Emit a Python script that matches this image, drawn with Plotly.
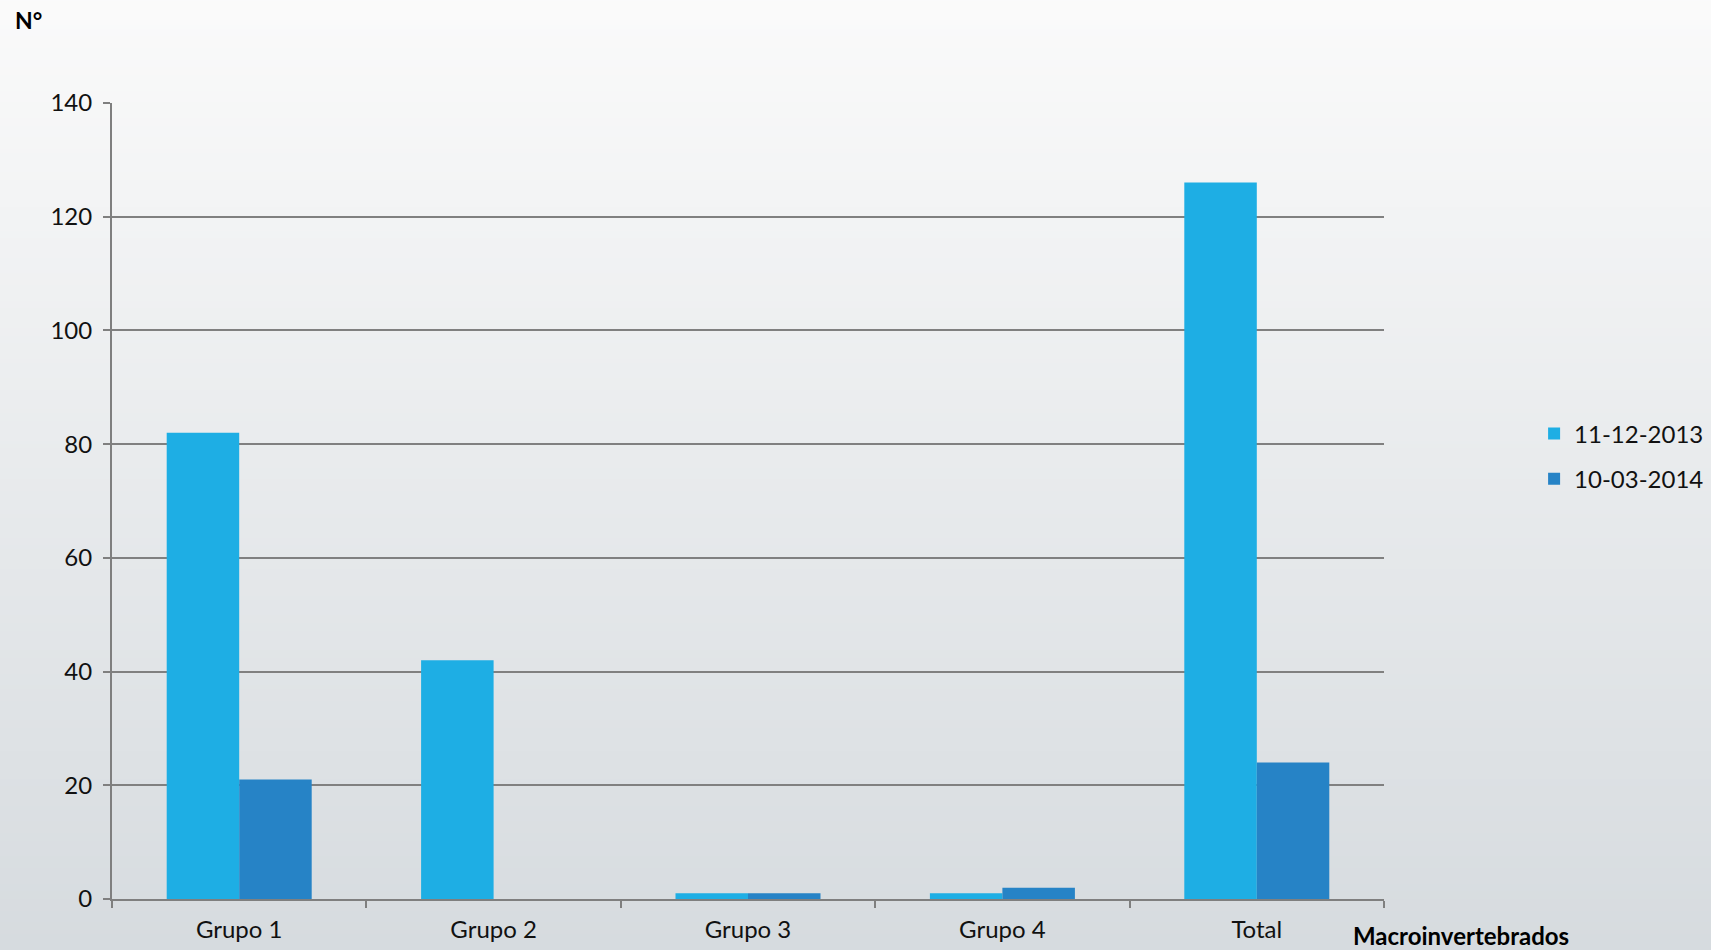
import plotly.graph_objects as go
import zlib, struct, base64

categories = ["Grupo 1", "Grupo 2", "Grupo 3", "Grupo 4", "Total"]
series_2013 = [82, 42, 1, 1, 126]
series_2014 = [21, 0, 1, 2, 24]
series_names = ["11-12-2013", "10-03-2014"]
y_ticks = [0, 20, 40, 60, 80, 100, 120, 140]

FONT = "Lato"


def gradient_png(top, bot, h=256):
    raw = b""
    for i in range(h):
        t = i / (h - 1)
        c = bytes(round(top[k] + (bot[k] - top[k]) * t) for k in range(3))
        raw += b"\x00" + c
    def chunk(tag, data):
        return struct.pack(">I", len(data)) + tag + data + struct.pack(">I", zlib.crc32(tag + data) & 0xffffffff)
    png = b"\x89PNG\r\n\x1a\n"
    png += chunk(b"IHDR", struct.pack(">IIBBBBB", 1, h, 8, 2, 0, 0, 0))
    png += chunk(b"IDAT", zlib.compress(raw))
    png += chunk(b"IEND", b"")
    return "data:image/png;base64," + base64.b64encode(png).decode()


fig = go.Figure()
fig.add_trace(go.Bar(x=categories, y=series_2013, name=series_names[0],
                     marker=dict(color="#1eaee4", line=dict(width=0)), legendgroup="a"))
fig.add_trace(go.Bar(x=categories, y=series_2014, name=series_names[1],
                     marker=dict(color="#2683c6", line=dict(width=0)), legendgroup="b"))

fig.update_layout(
    width=1711, height=950,
    margin=dict(l=112, r=327, t=103, b=51, autoexpand=False),
    paper_bgcolor="#e8ebed", plot_bgcolor="rgba(0,0,0,0)",
    barmode="group", bargap=0.43, bargroupgap=0,
    font=dict(family=FONT, size=24, color="#111111"),
    images=[dict(source=gradient_png((251, 251, 251), (213, 218, 222)),
                 xref="paper", yref="paper", x=-0.1, y=1.15, sizex=1.5, sizey=1.25,
                 sizing="stretch", xanchor="left", yanchor="top", layer="below")],
    showlegend=True,
    legend=dict(x=1.118, xanchor="left", y=0.556, yanchor="middle",
                font=dict(size=24, color="#111111"), tracegroupgap=11,
                bgcolor="rgba(0,0,0,0)"),
    xaxis=dict(showline=True, linecolor="#7f7f7f", linewidth=2, automargin=False,
               ticks="outside", tickson="boundaries", ticklen=7, tickcolor="#7f7f7f",
               tickwidth=2, showgrid=False, tickfont=dict(size=24),
               ticklabelstandoff=8),
    yaxis=dict(range=[0, 140], tickvals=y_ticks, showline=True, linecolor="#7f7f7f",
               linewidth=2, ticks="outside", ticklen=7, tickcolor="#7f7f7f", tickwidth=2,
               showgrid=True, gridcolor="#808080", gridwidth=2, zeroline=False,
               automargin=False, tickfont=dict(size=24), ticklabelstandoff=6),
    annotations=[
        dict(text="<b>N°</b>", xref="paper", yref="paper", x=-0.078, y=1.104,
             xanchor="left", yanchor="middle", showarrow=False,
             font=dict(size=23, color="#000000")),
        dict(text="<b>Macroinvertebrados</b>", xref="paper", yref="paper", x=0.974, y=-0.046,
             xanchor="left", yanchor="middle", showarrow=False,
             font=dict(size=24, color="#000000")),
    ],
)
fig.write_html("out.html")
